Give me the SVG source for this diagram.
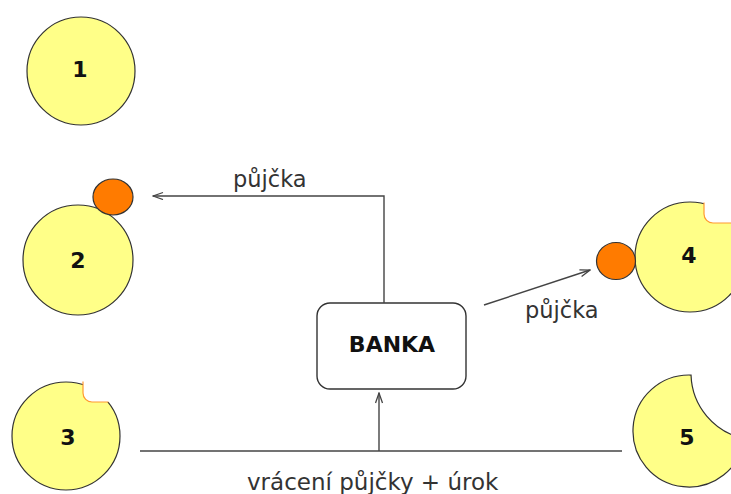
<svg xmlns="http://www.w3.org/2000/svg" width="731" height="494" viewBox="0 0 731 494">
<style>
.p{fill:#ffff88;stroke:#333;stroke-width:1.2}
.o{fill:#ff7b00;stroke:#333;stroke-width:1.2}
.n{font-family:"DejaVu Sans",sans-serif;font-weight:bold;font-size:22px;fill:#111;text-anchor:middle}
.l{font-family:"DejaVu Sans",sans-serif;font-size:22.5px;fill:#333}
.c{fill:none;stroke:#444;stroke-width:1.4}
.bite{fill:none;stroke:#ff9a30;stroke-width:1.2}
</style>
<defs>
<marker id="ah" markerWidth="12" markerHeight="10" refX="11" refY="4" orient="auto" markerUnits="userSpaceOnUse">
<path d="M1,0.5 L11,4 L1,7.5" fill="none" stroke="#444" stroke-width="1.3"/>
</marker>
</defs>
<rect width="731" height="494" fill="#fff"/>
<g id="n1">
<circle class="p" cx="81" cy="71" r="54"/>
<text class="n" x="80" y="77">1</text>
</g>
<g id="n2">
<circle class="p" cx="78" cy="260" r="55"/>
<ellipse class="o" cx="113" cy="197" rx="20" ry="18"/>
<text class="n" x="78" y="268">2</text>
</g>
<g id="n3">
<circle class="p" cx="66" cy="436" r="54"/>
<path d="M83,370 V393 A9,9 0 0 0 92,402 H130 V370 Z" fill="#fff"/>
<path class="bite" d="M83,381.5 V393 A9,9 0 0 0 92,402 H108.5"/>
<text class="n" x="68" y="445">3</text>
</g>
<g id="n4">
<circle class="p" cx="690" cy="257" r="55"/>
<path d="M704,190 V214 A9,9 0 0 0 713,223 H760 V190 Z" fill="#fff"/>
<path class="bite" d="M704,202.5 V214 A9,9 0 0 0 713,223 H731"/>
<ellipse class="o" cx="616" cy="261" rx="19.5" ry="18.5"/>
<text class="n" x="689" y="263">4</text>
</g>
<g id="n5">
<path class="p" d="M691.03,375.04 A56,56 0 1 0 744.47,438.6 A67,67 0 0 1 691.03,375.04 Z"/>
<text class="n" x="687" y="445">5</text>
</g>
<g id="banka">
<rect x="317" y="303" width="149" height="86" rx="13" ry="13" fill="#fff" stroke="#333" stroke-width="1.4"/>
<text class="n" x="392" y="352">BANKA</text>
</g>
<g id="connectors">
<polyline class="c" points="384,303 384,196 153,196" marker-end="url(#ah)"/>
<line class="c" x1="484" y1="305" x2="590" y2="270" marker-end="url(#ah)"/>
<line class="c" x1="140" y1="451" x2="622" y2="451"/>
<line class="c" x1="379" y1="451" x2="379" y2="393" marker-end="url(#ah)"/>
</g>
<g id="labels">
<text class="l" x="233" y="187">půjčka</text>
<text class="l" x="525" y="318">půjčka</text>
<text class="l" x="247" y="490" style="font-size:23px">vrácení půjčky + úrok</text>
</g>
</svg>
